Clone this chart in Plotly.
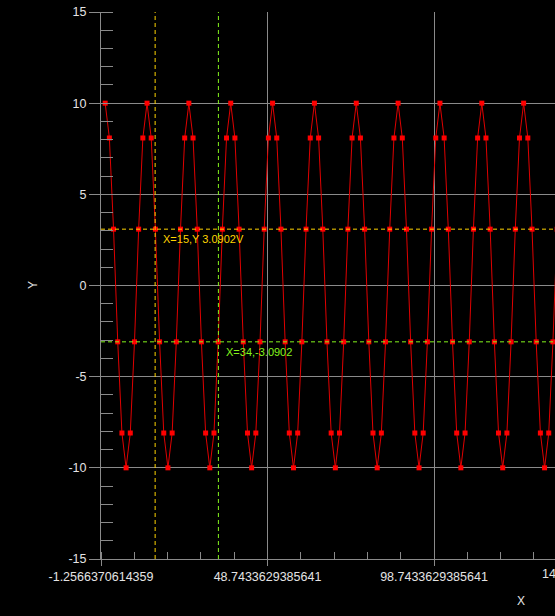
import plotly.graph_objects as go

# ---- data ----
x_values = [
    0.00, 1.26, 2.51, 3.77, 5.03, 6.28, 7.54, 8.80, 10.05, 11.31,
    12.57, 13.82, 15.08, 16.34, 17.59, 18.85, 20.11, 21.36, 22.62, 23.88,
    25.13, 26.39, 27.65, 28.90, 30.16, 31.42, 32.67, 33.93, 35.19, 36.44,
    37.70, 38.96, 40.21, 41.47, 42.73, 43.98, 45.24, 46.50, 47.75, 49.01,
    50.27, 51.52, 52.78, 54.04, 55.29, 56.55, 57.81, 59.06, 60.32, 61.58,
    62.83, 64.09, 65.35, 66.60, 67.86, 69.12, 70.37, 71.63, 72.88, 74.14,
    75.40, 76.65, 77.91, 79.17, 80.42, 81.68, 82.94, 84.19, 85.45, 86.71,
    87.96, 89.22, 90.48, 91.73, 92.99, 94.25, 95.50, 96.76, 98.02, 99.27,
    100.53, 101.79, 103.04, 104.30, 105.56, 106.81, 108.07, 109.33, 110.58, 111.84,
    113.10, 114.35, 115.61, 116.87, 118.12, 119.38, 120.64, 121.89, 123.15, 124.41,
    125.66, 126.92, 128.18, 129.43, 130.69, 131.95, 133.20, 134.46, 135.72, 136.97,
    138.23, 139.49, 140.74, 142.00, 143.26, 144.51, 145.77, 147.03, 148.28, 149.54,
    150.80,
]
y_values = [
    10, 8.0902, 3.0902, -3.0902, -8.0902, -10, -8.0902, -3.0902, 3.0902, 8.0902,
    10, 8.0902, 3.0902, -3.0902, -8.0902, -10, -8.0902, -3.0902, 3.0902, 8.0902,
    10, 8.0902, 3.0902, -3.0902, -8.0902, -10, -8.0902, -3.0902, 3.0902, 8.0902,
    10, 8.0902, 3.0902, -3.0902, -8.0902, -10, -8.0902, -3.0902, 3.0902, 8.0902,
    10, 8.0902, 3.0902, -3.0902, -8.0902, -10, -8.0902, -3.0902, 3.0902, 8.0902,
    10, 8.0902, 3.0902, -3.0902, -8.0902, -10, -8.0902, -3.0902, 3.0902, 8.0902,
    10, 8.0902, 3.0902, -3.0902, -8.0902, -10, -8.0902, -3.0902, 3.0902, 8.0902,
    10, 8.0902, 3.0902, -3.0902, -8.0902, -10, -8.0902, -3.0902, 3.0902, 8.0902,
    10, 8.0902, 3.0902, -3.0902, -8.0902, -10, -8.0902, -3.0902, 3.0902, 8.0902,
    10, 8.0902, 3.0902, -3.0902, -8.0902, -10, -8.0902, -3.0902, 3.0902, 8.0902,
    10, 8.0902, 3.0902, -3.0902, -8.0902, -10, -8.0902, -3.0902, 3.0902, 8.0902,
    10, 8.0902, 3.0902, -3.0902, -8.0902, -10, -8.0902, -3.0902, 3.0902, 8.0902,
    10,
]
x_tick_values = [-1.2566370614359, 48.7433629385641, 98.7433629385641, 148.7433629385641]
x_tick_labels = ["-1.2566370614359", "48.7433629385641", "98.7433629385641", "148.7433629385641"]
y_tick_values = [-15, -10, -5, 0, 5, 10, 15]
y_tick_labels = ["-15", "-10", "-5", "0", "5", "10", "15"]

cursor1_x, cursor1_y, cursor1_label = 15, 3.0902, "X=15,Y 3.0902V"
cursor2_x, cursor2_y, cursor2_label = 34, -3.0902, "X=34,-3.0902"

# ---- style ----
GRID = "#8a8a8a"
TXT = "#e4e4e4"
FONT = "Liberation Sans"
YEL = "#ffd400"
GRN = "#84f41c"
TICK_SIZE = 12.5

X_MIN = x_tick_values[0]
X_MAX = 135.08
PLOT_W = 454
PLOT_H = 547

fig = go.Figure()
fig.add_trace(go.Scatter(
    x=x_values, y=y_values, mode="lines+markers",
    line=dict(color="#e00000", width=1),
    marker=dict(symbol="square", size=5, color="#ff0000", line=dict(width=0)),
    hoverinfo="skip", showlegend=False,
))

for xv, yv, col in [(cursor1_x, cursor1_y, YEL), (cursor2_x, cursor2_y, GRN)]:
    fig.add_shape(type="line", xref="x", yref="paper", x0=xv, x1=xv, y0=0, y1=1,
                  line=dict(color=col, width=1, dash="4px,3px"))
    fig.add_shape(type="line", xref="paper", yref="y", x0=0, x1=1, y0=yv, y1=yv,
                  line=dict(color=col, width=1, dash="4px,3px"))

for xv, yv, txt, col in [(cursor1_x, cursor1_y, cursor1_label, YEL),
                         (cursor2_x, cursor2_y, cursor2_label, GRN)]:
    fig.add_annotation(x=xv, y=yv, xref="x", yref="y", text=txt, showarrow=False,
                       xanchor="left", yanchor="top", xshift=6, yshift=-2,
                       font=dict(family=FONT, size=11, color=col))

# clipped last tick label at right edge
fig.add_annotation(x=(599 - 101) / PLOT_W, y=0, xref="paper", yref="paper",
                   text=x_tick_labels[-1], showarrow=False, xanchor="center",
                   yanchor="top", yshift=-6, font=dict(family=FONT, size=TICK_SIZE, color=TXT))
# axis titles
fig.add_annotation(x=(521 - 101) / PLOT_W, y=-(601 - 559) / PLOT_H, xref="paper", yref="paper",
                   text="X", showarrow=False, xanchor="center", yanchor="middle",
                   font=dict(family=FONT, size=12, color=TXT))
fig.add_annotation(x=-(101 - 33) / PLOT_W, y=(559 - 285) / PLOT_H, xref="paper", yref="paper",
                   text="Y", showarrow=False, xanchor="center", yanchor="middle", textangle=-90,
                   font=dict(family=FONT, size=12, color=TXT))

fig.update_layout(
    width=555, height=616,
    margin=dict(l=101, r=0, t=12, b=57),
    paper_bgcolor="#000000", plot_bgcolor="#000000",
    font=dict(family=FONT, size=TICK_SIZE, color=TXT),
    xaxis=dict(
        range=[X_MIN, X_MAX], tickmode="array", tickvals=x_tick_values, ticktext=x_tick_labels,
        showgrid=True, gridcolor=GRID, gridwidth=1, zeroline=False,
        showline=True, linecolor=GRID, linewidth=1,
        ticks="outside", ticklen=6, tickcolor=GRID, tickwidth=1,
        minor=dict(ticks="inside", ticklen=7, tickcolor=GRID, tickwidth=1,
                   tick0=X_MIN, dtick=10, showgrid=False),
        tickfont=dict(family=FONT, size=TICK_SIZE, color=TXT),
    ),
    yaxis=dict(
        range=[-15, 15], tickmode="array", tickvals=y_tick_values, ticktext=y_tick_labels,
        showgrid=True, gridcolor=GRID, gridwidth=1, zeroline=False,
        showline=True, linecolor=GRID, linewidth=1,
        ticks="outside", ticklen=11, tickcolor=GRID, tickwidth=1,
        minor=dict(ticks="inside", ticklen=12, tickcolor=GRID, tickwidth=1,
                   tick0=0, dtick=1, showgrid=False),
        tickfont=dict(family=FONT, size=TICK_SIZE, color=TXT),
    ),
)

fig.write_html(
    "out.html",
    config={"displayModeBar": False},
    post_script="document.body.style.margin='0';document.body.style.overflow='hidden';document.body.style.background='#000';",
)
